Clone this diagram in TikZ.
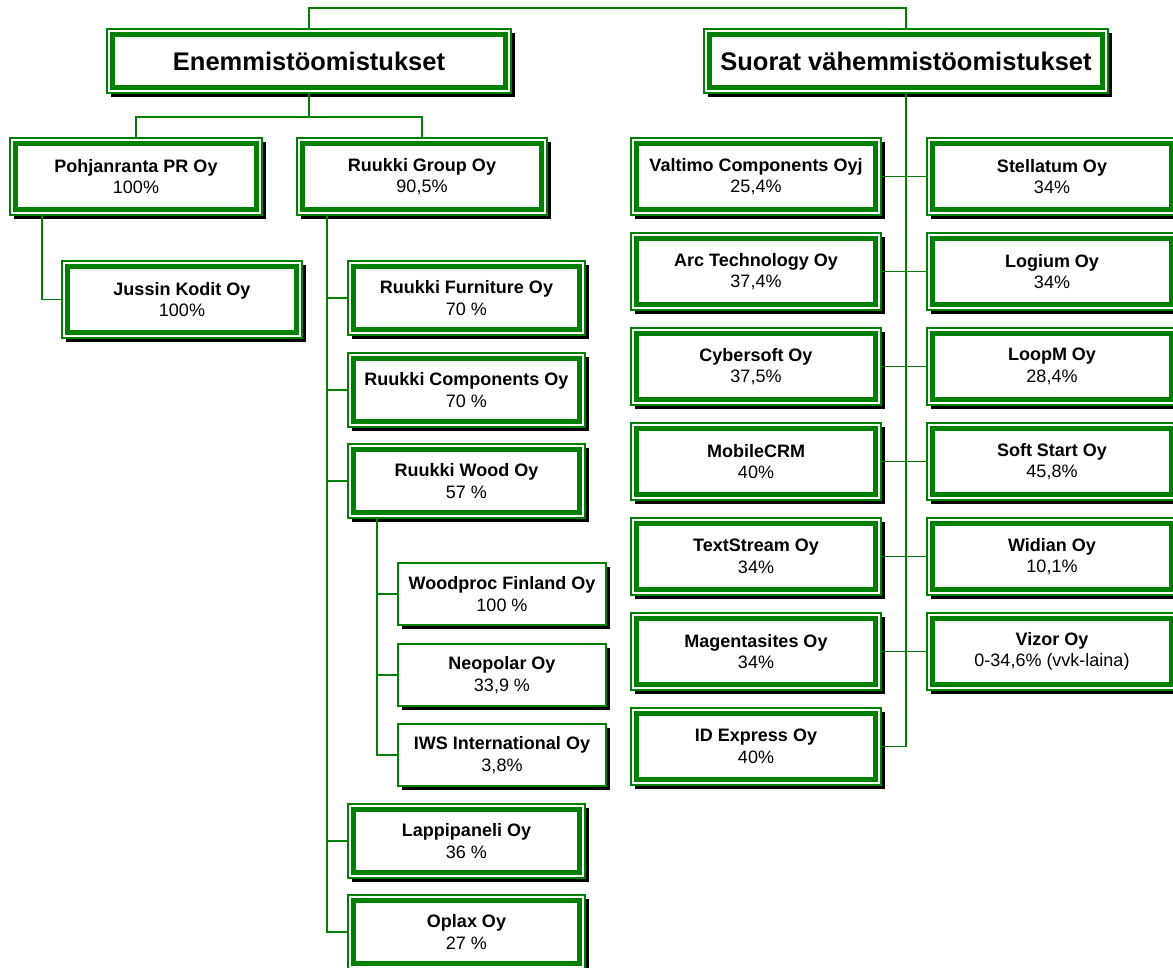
\documentclass[tikz,border=0pt]{standalone}
\usepackage{fontspec}
\setmainfont{Liberation Sans}
\usetikzlibrary{shadows}
\definecolor{og}{RGB}{0,128,0}
\newcommand{\boxfont}{\fontsize{18}{21.6}\selectfont}
\newcommand{\titlefont}{\fontsize{25.5}{30}\selectfont\bfseries}
\tikzset{
  shad/.style={drop shadow={shadow xshift=4pt, shadow yshift=-4pt, opacity=1, fill=black}},
  gbox/.style={shad, draw=og, line width=1.1pt, fill=white, inner sep=0pt, align=center,
    text=black, font=\boxfont,
    path picture={\draw[og, line width=5pt]
      ([shift={(5.9pt,-5.9pt)}]path picture bounding box.north west) rectangle
      ([shift={(-5.9pt,5.9pt)}]path picture bounding box.south east);}},
  sbox/.style={shad, draw=og, line width=1.5pt, fill=white, inner sep=0pt, align=center,
    text=black, font=\boxfont, minimum width=208pt, minimum height=62pt},
  titlebox/.style={gbox, minimum width=404pt, minimum height=64pt, font=\titlefont},
  colbox/.style={gbox, minimum width=250pt, minimum height=77pt},
  subbox/.style={gbox, minimum width=237pt, minimum height=74pt},
  conn/.style={draw=og, line width=1.5pt},
}
\begin{document}
\begin{tikzpicture}[x=1pt, y=-1pt]
\useasboundingbox (0,0) rectangle (1173,968);
\clip (0,0) rectangle (1173,968);

% top level
\node[titlebox] (enem) at (309,61) {Enemmistöomistukset};
\node[titlebox] (suor) at (906,61) {Suorat vähemmistöomistukset};

% left branch
\node[gbox, minimum width=252pt, minimum height=77pt] (pohj) at (136,176.5) {\textbf{Pohjanranta PR Oy}\\100\%};
\node[gbox, minimum width=250pt, minimum height=77pt] (rgrp) at (422,176.5) {\textbf{Ruukki Group Oy}\\90,5\%};
\node[gbox, minimum width=240pt, minimum height=77pt] (juss) at (182,299.5) {\textbf{Jussin Kodit Oy}\\100\%};

\node[subbox] (rfur) at (466.5,298) {\textbf{Ruukki Furniture Oy}\\70 \%};
\node[subbox] (rcomp) at (466.5,390) {\textbf{Ruukki Components Oy}\\70 \%};
\node[subbox] (rwood) at (466.5,481) {\textbf{Ruukki Wood Oy}\\57 \%};
\node[sbox] (woodp) at (502,594) {\textbf{Woodproc Finland Oy}\\100 \%};
\node[sbox] (neop) at (502,675) {\textbf{Neopolar Oy}\\33,9 \%};
\node[sbox] (iws) at (502,755) {\textbf{IWS International Oy}\\3,8\%};
\node[subbox] (lappi) at (466.5,841) {\textbf{Lappipaneli Oy}\\36 \%};
\node[subbox] (oplax) at (466.5,932) {\textbf{Oplax Oy}\\27 \%};

% right branch
\node[colbox] (valt) at (756,176.5) {\textbf{Valtimo Components Oyj}\\25,4\%};
\node[colbox] (stel) at (1052,176.5) {\textbf{Stellatum Oy}\\34\%};
\node[colbox] (arc) at (756,271.5) {\textbf{Arc Technology Oy}\\37,4\%};
\node[colbox] (logi) at (1052,271.5) {\textbf{Logium Oy}\\34\%};
\node[colbox] (cyber) at (756,366.5) {\textbf{Cybersoft Oy}\\37,5\%};
\node[colbox] (loopm) at (1052,366.5) {\textbf{LoopM Oy}\\28,4\%};
\node[colbox] (mcrm) at (756,461.5) {\textbf{MobileCRM}\\40\%};
\node[colbox] (soft) at (1052,461.5) {\textbf{Soft Start Oy}\\45,8\%};
\node[colbox] (txts) at (756,556.5) {\textbf{TextStream Oy}\\34\%};
\node[colbox] (widi) at (1052,556.5) {\textbf{Widian Oy}\\10,1\%};
\node[colbox] (mage) at (756,651.5) {\textbf{Magentasites Oy}\\34\%};
\node[colbox] (vizo) at (1052,651.5) {\textbf{Vizor Oy}\\0-34,6\% (vvk-laina)};
\node[colbox] (idex) at (756,746.5) {\textbf{ID Express Oy}\\40\%};

% helper coordinates
\coordinate (topy) at (0,8);
\coordinate (bar1) at (0,117);
\coordinate (trunkp) at (42,0);
\coordinate (trunkr) at (327,0);
\coordinate (trunkw) at (377,0);

% connectors
\draw[conn] (enem.north) -- (enem.north |- topy) -- (suor.north |- topy) -- (suor.north);
\draw[conn] (enem.south) -- (enem.south |- bar1);
\draw[conn] (pohj.north) |- (rgrp.north |- bar1) -- (rgrp.north);
\draw[conn] (trunkp |- pohj.south) |- (juss.west);
\draw[conn] (trunkr |- rgrp.south) |- (oplax.west);
\foreach \b in {rfur,rcomp,rwood,lappi} {\draw[conn] (trunkr |- \b.west) -- (\b.west);}
\draw[conn] (trunkw |- rwood.south) |- (iws.west);
\foreach \b in {woodp,neop} {\draw[conn] (trunkw |- \b.west) -- (\b.west);}
\draw[conn] (suor.south) |- (idex.east);
\draw[conn] (valt.east) -- (stel.west);
\draw[conn] (arc.east) -- (logi.west);
\draw[conn] (cyber.east) -- (loopm.west);
\draw[conn] (mcrm.east) -- (soft.west);
\draw[conn] (txts.east) -- (widi.west);
\draw[conn] (mage.east) -- (vizo.west);
\end{tikzpicture}
\end{document}
